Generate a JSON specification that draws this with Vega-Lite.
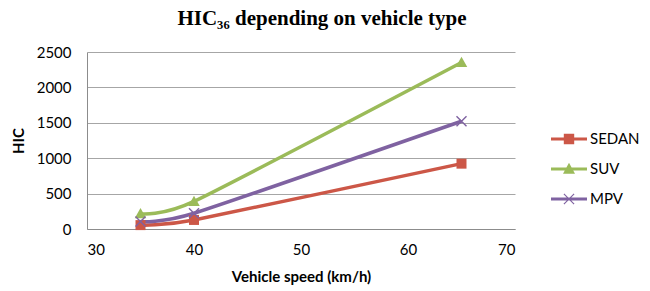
{
  "$schema": "https://vega.github.io/schema/vega-lite/v6.json",
  "autosize": {"type": "none"},
  "padding": {"left": 87, "top": 52, "right": 135, "bottom": 62},
  "width": 428,
  "height": 177,
  "background": "white",
  "title": {
    "text": "HIC₃₆ depending on vehicle type",
    "font": "Liberation Serif",
    "fontSize": 21,
    "fontWeight": "bold",
    "color": "#000000",
    "anchor": "middle",
    "dx": 21,
    "baseline": "alphabetic",
    "offset": -1
  },
  "config": {
    "view": {"stroke": null},
    "axis": {
      "labelFont": "Lato",
      "labelFontSize": 15,
      "labelColor": "#000000",
      "titleFont": "Lato",
      "titleFontSize": 15,
      "titleFontWeight": "bold",
      "titleColor": "#000000",
      "ticks": false,
      "domainColor": "#8C8C8C",
      "gridColor": "#A6A6A6"
    }
  },
  "data": {
    "values": [
      {"speed": 35, "hic": 55, "type": "SEDAN"},
      {"speed": 40, "hic": 128, "type": "SEDAN"},
      {"speed": 65, "hic": 923, "type": "SEDAN"},
      {"speed": 35, "hic": 215, "type": "SUV"},
      {"speed": 40, "hic": 390, "type": "SUV"},
      {"speed": 65, "hic": 2352, "type": "SUV"},
      {"speed": 35, "hic": 105, "type": "MPV"},
      {"speed": 40, "hic": 222, "type": "MPV"},
      {"speed": 65, "hic": 1522, "type": "MPV"}
    ]
  },
  "encoding": {
    "x": {
      "field": "speed",
      "type": "quantitative",
      "scale": {"domain": [30, 70], "nice": false, "zero": false},
      "axis": {
        "title": "Vehicle speed (km/h)",
        "values": [30, 40, 50, 60, 70],
        "grid": false,
        "labelPadding": 13,
        "titlePadding": 12
      }
    },
    "y": {
      "field": "hic",
      "type": "quantitative",
      "scale": {"domain": [0, 2500], "nice": false},
      "axis": {
        "title": "HIC",
        "values": [0, 500, 1000, 1500, 2000, 2500],
        "format": "d",
        "grid": true,
        "labelPadding": 16,
        "titlePadding": 10
      }
    },
    "color": {
      "field": "type",
      "type": "nominal",
      "scale": {
        "domain": ["SEDAN", "SUV", "MPV"],
        "range": ["#CC5747", "#9BBB59", "#7F62A1"]
      },
      "legend": {
        "title": null,
        "orient": "none",
        "legendX": 472,
        "legendY": 77,
        "padding": 0,
        "symbolSize": 400,
        "rowPadding": 12,
        "labelOffset": 11,
        "labelFont": "Lato",
        "labelFontSize": 15,
        "labelColor": "#000000",
        "encode": {
          "symbols": {
            "update": {
              "shape": {"signal": "datum.value === 'SEDAN' ? 'M-1.8,-0.15H1.8V0.15H-1.8Z M-0.52,-0.52H0.52V0.52H-0.52Z' : datum.value === 'SUV' ? 'M-1.8,-0.15H1.8V0.15H-1.8Z M0,-0.62L0.6,0.47L-0.6,0.47Z' : 'M-1.8,-0.15H1.8V0.15H-1.8Z M-0.55,-0.47L-0.47,-0.55L0.55,0.47L0.47,0.55Z M-0.55,0.47L0.47,-0.55L0.55,-0.47L-0.47,0.55Z'"},
              "fill": {"signal": "scale('color', datum.value)"},
              "fillOpacity": {"value": 1},
              "strokeWidth": {"value": 0}
            }
          }
        }
      }
    }
  },
  "layer": [
    {
      "mark": {"type": "line", "strokeWidth": 3.5, "interpolate": "cardinal", "tension": 0.4}
    },
    {
      "transform": [{"filter": "datum.type === 'SEDAN'"}],
      "mark": {"type": "point", "filled": true, "size": 100, "opacity": 1, "shape": "M-1,-1H1V1H-1Z"}
    },
    {
      "transform": [{"filter": "datum.type === 'SUV'"}],
      "mark": {"type": "point", "filled": true, "size": 100, "opacity": 1, "shape": "M0,-1.15L1.15,0.9L-1.15,0.9Z"}
    },
    {
      "transform": [{"filter": "datum.type === 'MPV'"}],
      "mark": {"type": "point", "filled": true, "size": 100, "opacity": 1, "shape": "M-1.1,-0.9L-0.9,-1.1L1.1,0.9L0.9,1.1Z M-1.1,0.9L0.9,-1.1L1.1,-0.9L-0.9,1.1Z"}
    }
  ]
}
